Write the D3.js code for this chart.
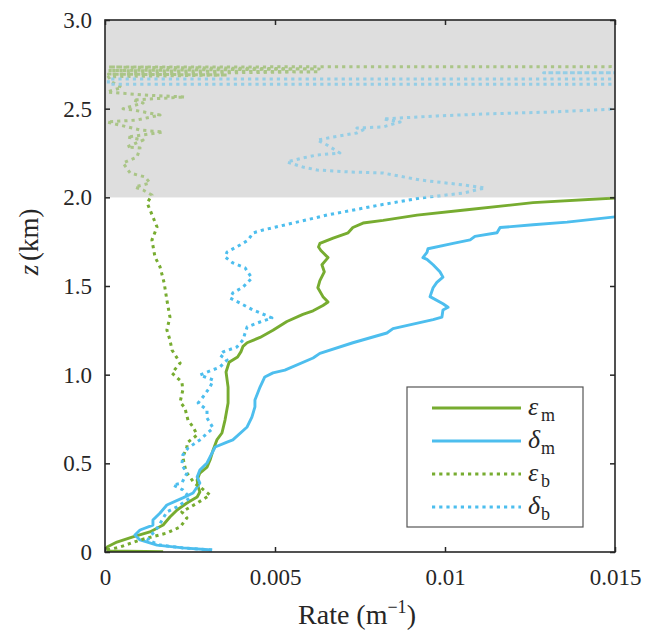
<!DOCTYPE html>
<html lang="en">
<head>
  <meta charset="UTF-8">
  <title>Entrainment and detrainment rates</title>
  <script src="https://cdn.jsdelivr.net/npm/d3@7"></script>
  <style>
    body { margin: 0; background: #fff; }
  </style>
</head>
<body>
  <svg width="667" height="639"></svg>
  <script>
    // --- data (rate in m^-1, height in km) ---
    var epsM_z = [0.002, 0.006, 0.028, 0.056, 0.085, 0.113, 0.152, 0.197, 0.237, 0.276, 0.31, 0.338, 0.367, 0.406, 0.445, 0.479, 0.519, 0.575, 0.632, 0.671, 0.744, 0.84, 0.93, 1.015, 1.07, 1.1, 1.13, 1.16, 1.18, 1.21, 1.25, 1.3, 1.34, 1.36, 1.39, 1.41, 1.44, 1.49, 1.53, 1.58, 1.62, 1.66, 1.7, 1.72, 1.74, 1.77, 1.8, 1.83, 1.855, 1.87, 1.9, 1.93, 1.97, 1.996, 2.02];
    var epsM_rate = [0.00171, 0.00009, 0.00006, 0.00035, 0.00082, 0.00132, 0.00171, 0.00191, 0.00212, 0.00241, 0.00271, 0.00279, 0.00274, 0.00271, 0.00279, 0.003, 0.00309, 0.00318, 0.00329, 0.00344, 0.00353, 0.00362, 0.00362, 0.00356, 0.00365, 0.0039, 0.004, 0.00406, 0.00418, 0.00456, 0.00494, 0.00535, 0.00582, 0.00612, 0.00641, 0.00656, 0.00641, 0.00626, 0.00632, 0.00645, 0.00638, 0.00656, 0.00635, 0.00628, 0.00632, 0.00671, 0.00715, 0.00729, 0.00759, 0.00818, 0.00918, 0.01065, 0.01259, 0.015, 0.018];

    var delM_z = [0.011, 0.023, 0.039, 0.068, 0.096, 0.124, 0.152, 0.18, 0.22, 0.265, 0.305, 0.333, 0.389, 0.423, 0.462, 0.502, 0.536, 0.592, 0.62, 0.632, 0.705, 0.761, 0.818, 0.857, 0.93, 0.987, 1.01, 1.026, 1.094, 1.12, 1.18, 1.235, 1.26, 1.31, 1.325, 1.365, 1.38, 1.4, 1.44, 1.49, 1.52, 1.55, 1.58, 1.62, 1.65, 1.66, 1.69, 1.71, 1.74, 1.76, 1.78, 1.8, 1.83, 1.845, 1.86, 1.89, 1.92];
    var delM_rate = [0.00315, 0.00229, 0.00153, 0.00103, 0.00088, 0.00103, 0.00141, 0.00141, 0.00162, 0.00182, 0.00229, 0.00259, 0.00279, 0.00271, 0.00279, 0.003, 0.00309, 0.00324, 0.00359, 0.00376, 0.00418, 0.00432, 0.00441, 0.00441, 0.00456, 0.0047, 0.00494, 0.00529, 0.00612, 0.00632, 0.00729, 0.00829, 0.00847, 0.00965, 0.00991, 0.00994, 0.01009, 0.00994, 0.00956, 0.00965, 0.00976, 0.00994, 0.00985, 0.00965, 0.00947, 0.00935, 0.00947, 0.0095, 0.01024, 0.01074, 0.01088, 0.01153, 0.01162, 0.01259, 0.01359, 0.015, 0.018];

    var epsB_z = [0.011, 0.028, 0.068, 0.107, 0.141, 0.192, 0.226, 0.276, 0.321, 0.367, 0.389, 0.423, 0.445, 0.479, 0.536, 0.592, 0.615, 0.66, 0.705, 0.744, 0.812, 0.846, 0.914, 0.959, 1.009, 1.066, 1.139, 1.196, 1.252, 1.325, 1.421, 1.517, 1.607, 1.664, 1.759, 1.833, 1.889, 1.968, 2.013, 2.041, 2.058, 2.081, 2.115, 2.137, 2.194, 2.227, 2.278, 2.284, 2.323, 2.34, 2.368, 2.38, 2.425, 2.436, 2.464, 2.493, 2.5, 2.532, 2.549, 2.566, 2.577, 2.594, 2.62, 2.65, 2.68, 2.69, 2.695, 2.708, 2.715, 2.724, 2.735, 2.742];
    var epsB_rate = [0.00006, 0.00044, 0.00103, 0.00182, 0.00221, 0.00241, 0.00226, 0.00271, 0.00309, 0.00279, 0.00262, 0.0025, 0.00241, 0.00235, 0.00229, 0.00241, 0.00241, 0.00271, 0.00259, 0.00244, 0.00235, 0.00221, 0.00229, 0.00226, 0.00197, 0.00221, 0.00197, 0.00191, 0.00182, 0.00191, 0.00182, 0.00174, 0.00162, 0.00147, 0.00138, 0.00153, 0.00141, 0.00124, 0.00138, 0.00112, 0.00088, 0.00132, 0.00118, 0.00074, 0.00053, 0.00094, 0.00103, 0.00065, 0.00112, 0.00065, 0.00171, 0.00103, 0.00006, 0.00094, 0.00162, 0.00082, 0.00053, 0.00112, 0.00082, 0.00235, 0.00112, 0.00006, 0.0005, 0.0002, 0.0001, 0.0036, 0.0001, 0.0063, 0.0001, 0.0063, 0.0001, 0.05];

    var delB_z = [0.011, 0.023, 0.039, 0.068, 0.085, 0.141, 0.226, 0.254, 0.305, 0.35, 0.378, 0.389, 0.445, 0.491, 0.547, 0.586, 0.632, 0.648, 0.699, 0.756, 0.801, 0.84, 0.874, 0.93, 0.97, 0.998, 1.043, 1.083, 1.111, 1.128, 1.156, 1.196, 1.235, 1.269, 1.297, 1.32, 1.365, 1.404, 1.432, 1.461, 1.494, 1.545, 1.602, 1.63, 1.664, 1.692, 1.731, 1.759, 1.799, 1.816, 1.855, 1.9, 1.957, 1.996, 2.024, 2.053, 2.07, 2.098, 2.137, 2.143, 2.154, 2.171, 2.199, 2.222, 2.239, 2.25, 2.295, 2.323, 2.34, 2.363, 2.38, 2.391, 2.397, 2.425, 2.442, 2.459, 2.47, 2.481, 2.498, 2.56, 2.637, 2.637, 2.667, 2.667, 2.703, 2.703, 2.705];
    var delB_rate = [0.00315, 0.00229, 0.00162, 0.00126, 0.00132, 0.00156, 0.00182, 0.00212, 0.0025, 0.00229, 0.002, 0.00226, 0.00241, 0.00226, 0.00229, 0.00244, 0.00279, 0.00288, 0.00318, 0.003, 0.003, 0.00274, 0.00288, 0.00309, 0.00318, 0.00279, 0.00338, 0.00359, 0.00338, 0.00347, 0.00388, 0.00406, 0.00412, 0.00418, 0.00456, 0.00491, 0.00435, 0.00397, 0.00368, 0.00376, 0.00406, 0.00432, 0.00412, 0.00376, 0.00353, 0.00359, 0.00397, 0.00421, 0.00435, 0.00465, 0.00553, 0.00653, 0.00809, 0.00926, 0.01053, 0.01118, 0.01053, 0.00926, 0.00818, 0.00721, 0.00624, 0.00582, 0.00535, 0.00582, 0.00624, 0.00691, 0.00653, 0.00624, 0.00671, 0.00741, 0.00759, 0.00741, 0.00818, 0.00868, 0.00818, 0.00976, 0.01112, 0.01309, 0.015, 0.03, 0.05, 0.0001, 0.0001, 0.05, 0.05, 0.0129, 0.05];

    var seriesNames = ['\u03b5', '\u03b4', '\u03b5', '\u03b4'];
    var seriesSubs = ['m', 'm', 'b', 'b'];
    var rateTicks = [0, 0.005, 0.01, 0.015];
    var rateTickLabels = ['0', '0.005', '0.01', '0.015'];
    var zTicks = [0, 0.5, 1, 1.5, 2, 2.5, 3];
    var zTickLabels = ['0', '0.5', '1.0', '1.5', '2.0', '2.5', '3.0'];
    var shadeFrom = 2.0;

    var green = '#77ac30';
    var blue = '#4dbeee';
    var ink = '#262626';
    var serif = 'Liberation Serif';

    var svg = d3.select('svg');
    var margin = {top: 20, right: 52, bottom: 87, left: 105};
    var width = svg.attr('width') - margin.left - margin.right;
    var height = svg.attr('height') - margin.top - margin.bottom;

    var chart = svg.append('g')
      .attr('transform', 'translate(' + margin.left + ',' + margin.top + ')');

    var x = d3.scaleLinear().domain([0, 0.015]).range([0, width]);
    var y = d3.scaleLinear().domain([0, 3]).range([height, 0]);

    chart.append('clipPath').attr('id', 'plot-clip')
      .append('rect').attr('width', width).attr('height', height);

    // grey band behind
    chart.append('rect')
      .attr('x', 0).attr('y', y(3))
      .attr('width', width).attr('height', y(shadeFrom) - y(3))
      .attr('fill', '#dedede');

    function zip(zs, rs) {
      return zs.map(function(z, i) { return {z: z, rate: rs[i]}; });
    }

    var series = [
      {values: zip(epsM_z, epsM_rate), color: green, dotted: false},
      {values: zip(delM_z, delM_rate), color: blue, dotted: false},
      {values: zip(epsB_z, epsB_rate), color: green, dotted: true},
      {values: zip(delB_z, delB_rate), color: blue, dotted: true}
    ];

    var line = d3.line()
      .x(function(d) { return x(d.rate); })
      .y(function(d) { return y(d.z); });

    chart.append('g').attr('clip-path', 'url(#plot-clip)')
      .selectAll('path')
      .data(series)
      .enter()
      .append('path')
      .attr('fill', 'none')
      .attr('stroke', function(d) { return d.color; })
      .attr('stroke-width', function(d) { return d.dotted ? 3 : 2.9; })
      .attr('stroke-dasharray', function(d) { return d.dotted ? '3.2 4' : null; })
      .attr('stroke-linejoin', 'round')
      .attr('d', function(d) { return line(d.values); });

    // grey band washes out the lines above 2 km
    chart.append('rect')
      .attr('x', 0).attr('y', y(3))
      .attr('width', width).attr('height', y(shadeFrom) - y(3))
      .attr('fill', '#dedede')
      .attr('opacity', 0.5);

    // axes, ticks inward on all four sides
    function styleAxis(g) {
      g.attr('font-family', null);
      g.select('.domain').remove();
      g.selectAll('.tick line').attr('stroke', ink).attr('stroke-width', 1.5);
      g.selectAll('.tick text').attr('fill', ink)
        .attr('font-family', serif).attr('font-size', 23);
    }

    chart.append('g')
      .attr('transform', 'translate(0,' + height + ')')
      .call(d3.axisBottom(x).tickValues(rateTicks).tickSize(-5).tickPadding(17)
        .tickFormat(function(d, i) { return rateTickLabels[i]; }))
      .call(styleAxis);
    chart.append('g')
      .call(d3.axisTop(x).tickValues(rateTicks).tickSize(-5).tickFormat(''))
      .call(styleAxis);
    chart.append('g')
      .call(d3.axisLeft(y).tickValues(zTicks).tickSize(-5).tickPadding(13)
        .tickFormat(function(d, i) { return zTickLabels[i]; }))
      .call(styleAxis);
    chart.append('g')
      .attr('transform', 'translate(' + width + ',0)')
      .call(d3.axisRight(y).tickValues(zTicks).tickSize(-5).tickFormat(''))
      .call(styleAxis);

    chart.append('rect')
      .attr('width', width).attr('height', height)
      .attr('fill', 'none').attr('stroke', ink).attr('stroke-width', 1.6);

    // axis titles
    var xt = svg.append('text')
      .attr('x', margin.left + width / 2 - 3).attr('y', 624)
      .attr('text-anchor', 'middle')
      .attr('font-family', serif).attr('font-size', 28).attr('fill', ink);
    xt.append('tspan').text('Rate (m');
    xt.append('tspan').attr('dy', -11).attr('font-size', 18).text('\u22121');
    xt.append('tspan').attr('dy', 11).text(')');

    var yTitle = svg.append('g')
      .attr('transform', 'translate(38,240) rotate(-90)');
    yTitle.append('text')
      .attr('x', -30).attr('text-anchor', 'middle')
      .attr('font-family', serif).attr('font-size', 27).attr('font-style', 'italic')
      .attr('fill', ink).text('z');
    yTitle.append('text')
      .attr('x', -21).attr('text-anchor', 'start')
      .attr('font-family', serif).attr('font-size', 27)
      .attr('fill', ink).text('(km)');

    // legend
    var legend = chart.append('g').attr('transform', 'translate(302,367)');
    legend.append('rect')
      .attr('width', 176).attr('height', 140)
      .attr('fill', '#fff').attr('stroke', '#555').attr('stroke-width', 1.2);

    var item = legend.selectAll('.item')
      .data(series)
      .enter()
      .append('g')
      .attr('class', 'item')
      .attr('transform', function(d, i) { return 'translate(0,' + (21 + i * 33) + ')'; });

    item.append('line')
      .attr('x1', 25).attr('x2', 114)
      .attr('stroke', function(d) { return d.color; })
      .attr('stroke-width', function(d) { return d.dotted ? 3 : 2.9; })
      .attr('stroke-dasharray', function(d) { return d.dotted ? '3.2 4' : null; });

    item.append('text')
      .attr('x', 121).attr('y', 7)
      .attr('font-family', serif).attr('font-size', 26).attr('font-style', 'italic')
      .attr('fill', ink)
      .text(function(d, i) { return seriesNames[i]; });
    item.append('text')
      .attr('x', 134).attr('y', 13)
      .attr('font-family', serif).attr('font-size', 18)
      .attr('fill', ink)
      .text(function(d, i) { return seriesSubs[i]; });
  </script>
</body>
</html>
